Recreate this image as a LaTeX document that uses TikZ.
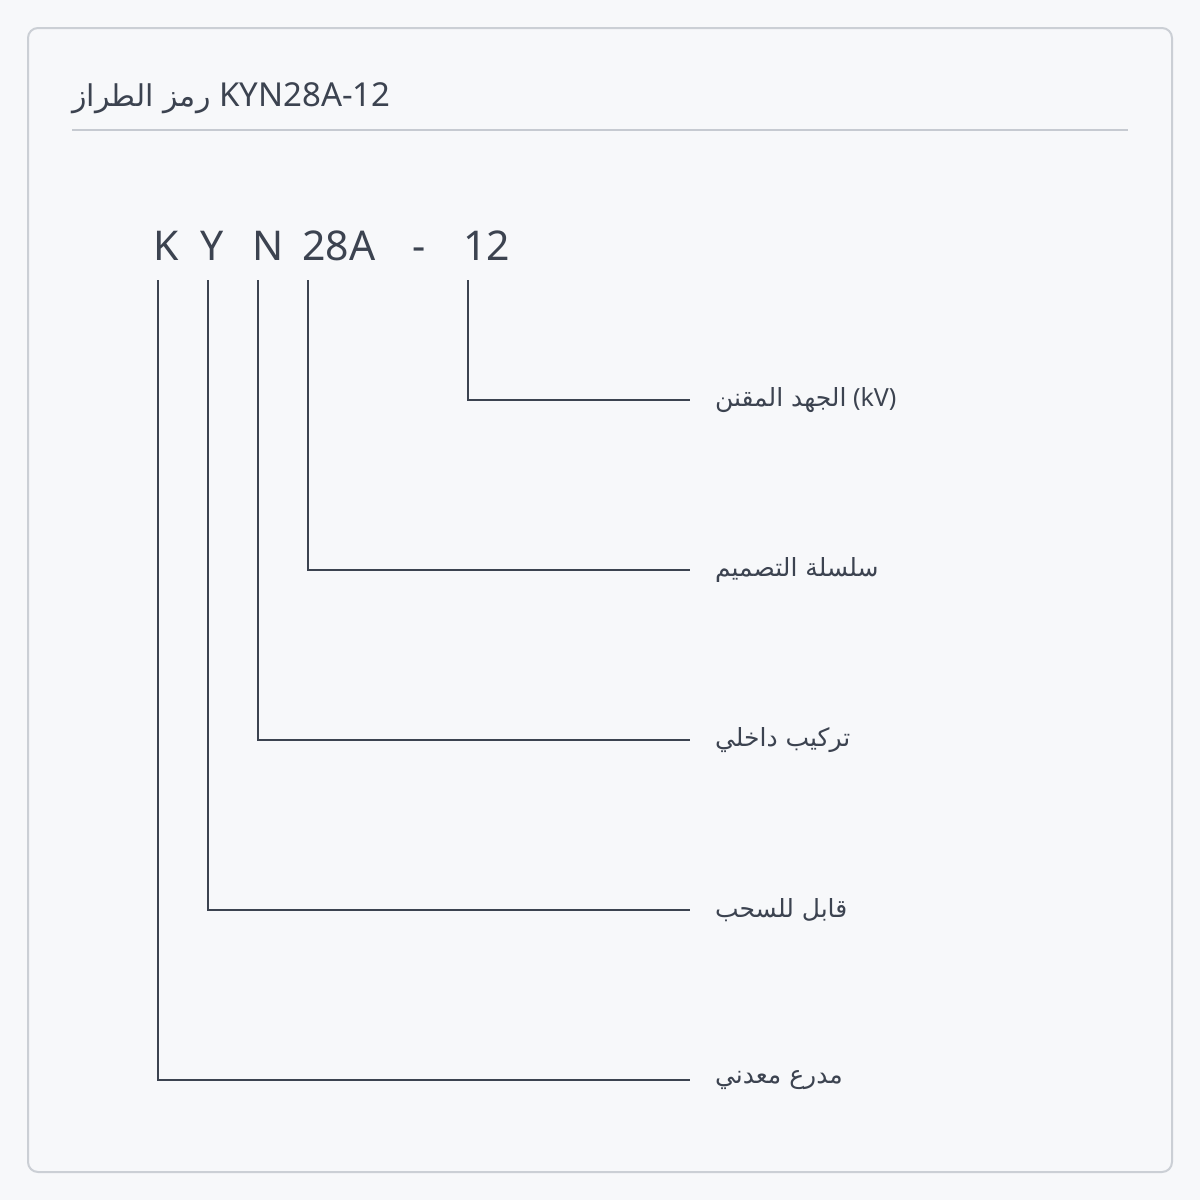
\documentclass[tikz,border=0pt]{standalone}
\usepackage{fontspec}
\setmainfont{Noto Sans}
\newfontfamily\arabicfont[Script=Arabic]{DejaVu Sans}
\TeXXeTstate=1
\usepackage{tikz}
\usetikzlibrary{positioning}

\definecolor{ink}{HTML}{3C4350}
\definecolor{paper}{HTML}{F7F8FA}
\definecolor{framegray}{HTML}{CBCFD5}
\definecolor{rulegray}{HTML}{C6CAD1}

\begin{document}
\begin{tikzpicture}[x=0.5pt,y=-0.5pt]

\tikzstyle{codechar}=[anchor=base west,inner sep=0,text=ink,font=\fontsize{20.5}{25}\selectfont]
\tikzstyle{meaning}=[anchor=west,inner sep=0,inner xsep=12.5pt,outer sep=0,text=ink,font=\fontsize{12.5}{15}\selectfont]
\tikzstyle{link}=[draw=ink,line width=1pt]

%frame
\useasboundingbox [fill=paper] (0,0) rectangle (1200,1200);
\draw [framegray,line width=1pt,rounded corners=5pt] (28,28) rectangle (1172,1172);

%title
\node [anchor=base west,inner sep=0,text=ink,font=\fontsize{16.5}{20}\selectfont] (title) at (72,106)
      {{\fontsize{15}{20}\arabicfont\beginR رمز الطراز\endR}\ KYN28A-12};
\draw [rulegray,line width=1pt] (72,130) -- (1128,130);

%KYN28A-12
\node [codechar] (cK) at (153,260) {K};
\node [codechar] (cY) at (200,260) {Y};
\node [codechar] (cN) at (252,260) {N};
\node [codechar] (c28A) at (302,260) {28A};
\node [codechar] (cdash) at (412,260) {-};
\node [codechar] (c12) at (463,260) {12};

\coordinate (tK) at (158,280);
\coordinate (tY) at (208,280);
\coordinate (tN) at (258,280);
\coordinate (t28A) at (308,280);
\coordinate (t12) at (468,280);

%labels
\node [meaning] (l12) at (690,400) {{\arabicfont\beginR الجهد المقنن\endR}\ (kV)};
\node [meaning] (l28A) at (690,570) {\arabicfont\beginR سلسلة التصميم\endR};
\node [meaning] (lN) at (690,740) {\arabicfont\beginR تركيب داخلي\endR};
\node [meaning] (lY) at (690,910) {\arabicfont\beginR قابل للسحب\endR};
\node [meaning] (lK) at (690,1080) {\arabicfont\beginR مدرع معدني\endR};

\draw [link] (t12) |- (l12.west);
\draw [link] (t28A) |- (l28A.west);
\draw [link] (tN) |- (lN.west);
\draw [link] (tY) |- (lY.west);
\draw [link] (tK) |- (lK.west);

\end{tikzpicture}
\end{document}
